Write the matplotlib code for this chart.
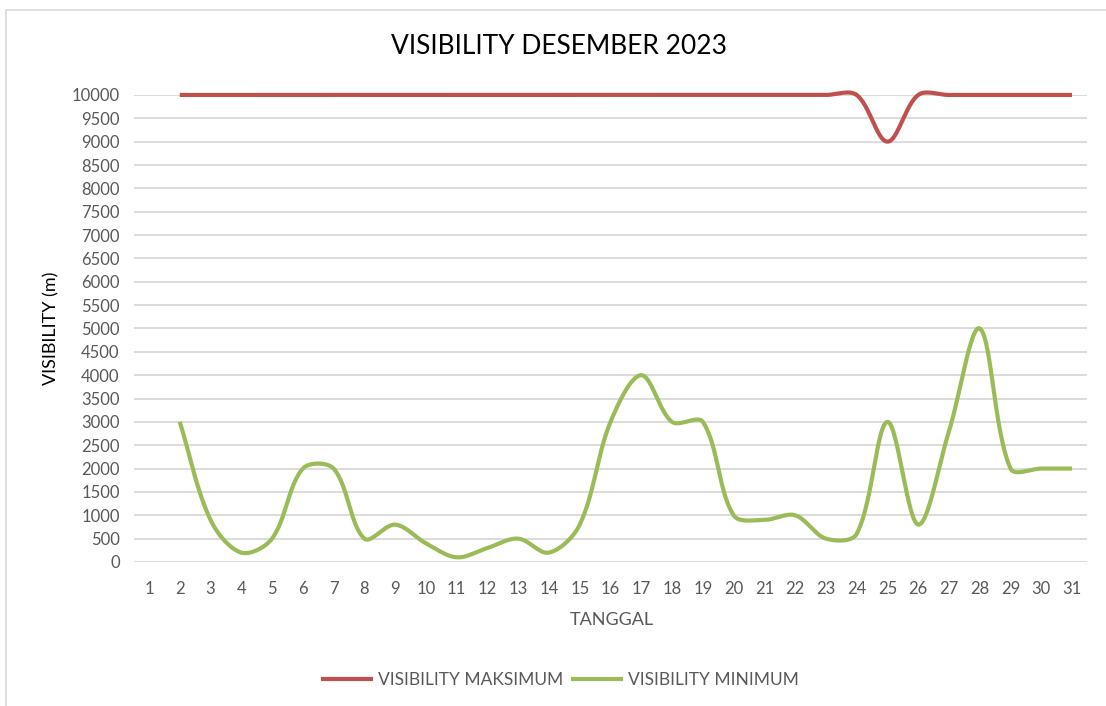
import numpy as np
import matplotlib.pyplot as plt
from matplotlib.patches import Rectangle

# Data visibility Desember 2023 (tanggal 2 - 31)
tanggal = list(range(2, 32))
vis_maks = [10000] * 23 + [9000] + [10000] * 6
vis_min = [3000, 900, 200, 500, 2000, 2000, 500, 800, 400, 100,
           300, 500, 200, 800, 3000, 4000, 3000, 3000, 1000, 900,
           1000, 500, 600, 3000, 800, 2800, 5000, 2000, 2000, 2000]
kategori = [str(i) for i in range(1, 32)]
y_ticks = list(range(0, 10001, 500))

MERAH = '#C0504D'
HIJAU = '#9BBB59'
ABU = '#595959'

# skala piksel kira-kira (untuk jarak antar titik saat smoothing)
SX, SY = 30.77, 467 / 10000


def garis_halus(x, y, n=30):
    """Kurva halus ala Excel: Bezier, tangen dibobot panjang segmen."""
    x = np.asarray(x, float)
    y = np.asarray(y, float)
    P = np.column_stack([x * SX, y * SY])
    k = len(P)
    d = np.hypot(*np.diff(P, axis=0).T)
    xs, ys = [], []
    t = np.linspace(0, 1, n)[:, None]
    for i in range(k - 1):
        p0, p3 = P[i], P[i + 1]
        if i > 0:
            c1 = p0 + (P[i + 1] - P[i - 1]) * d[i] / (d[i - 1] + d[i]) / 3
        else:
            c1 = p0 + (P[i + 1] - P[i]) / 3
        if i + 2 < k:
            c2 = p3 - (P[i + 2] - P[i]) * d[i] / (d[i] + d[i + 1]) / 3
        else:
            c2 = p3 - (P[i + 1] - P[i]) / 3
        b = (1 - t) ** 3 * p0 + 3 * (1 - t) ** 2 * t * c1 \
            + 3 * (1 - t) * t ** 2 * c2 + t ** 3 * p3
        xs.extend(b[:, 0] / SX)
        ys.extend(b[:, 1] / SY)
    return xs, ys


fig = plt.figure(figsize=(11.06, 7.06), dpi=100)
plt.rcParams['font.family'] = ['Lato', 'DejaVu Sans']

# bingkai chart
fig.patches.append(Rectangle((6 / 1106, -0.01), 1.02, 1 - 10 / 706 + 0.01,
                             transform=fig.transFigure, fill=False,
                             edgecolor='#d9d9d9', linewidth=1.2))

ax = fig.add_axes([0.1208, 0.204, 0.8624, 0.6615])

xm, ym = garis_halus(tanggal, vis_maks)
xn, yn = garis_halus(tanggal, vis_min)
ax.plot(xm, ym, color=MERAH, linewidth=3, solid_capstyle='butt',
        clip_on=False, label='VISIBILITY MAKSIMUM', zorder=3)
ax.plot(xn, yn, color=HIJAU, linewidth=3, solid_capstyle='butt',
        clip_on=False, label='VISIBILITY MINIMUM', zorder=3)

ax.set_xlim(0.5, 31.5)
ax.set_ylim(0, 10000)
ax.set_xticks(range(1, 32))
ax.set_xticklabels(kategori)
ax.set_yticks(y_ticks)
ax.grid(axis='y', color='#d9d9d9', linewidth=1.3)
ax.set_axisbelow(True)
for s in ax.spines.values():
    s.set_visible(False)
ax.tick_params(length=0, colors=ABU, labelsize=12)
ax.tick_params(axis='x', pad=14)
ax.tick_params(axis='y', pad=10)

ax.set_xlabel('TANGGAL', color=ABU, fontsize=13)
ax.xaxis.set_label_coords(0.5 - (610 - 611) / 953.8, -0.108)
ax.set_ylabel('VISIBILITY (m)', color='black', fontsize=13)
ax.yaxis.set_label_coords(-0.078, 0.5)

fig.text(559 / 1106, 1 - 46 / 706, 'VISIBILITY DESEMBER 2023',
         ha='center', va='center', fontsize=19)

fig.legend(loc='center', bbox_to_anchor=(560 / 1106, 1 - 680 / 706), ncol=2,
           frameon=False, fontsize=12.5, labelcolor=ABU, handlelength=3.0,
           handletextpad=0.3, columnspacing=0.4)

fig.savefig('out.png', dpi=100)
